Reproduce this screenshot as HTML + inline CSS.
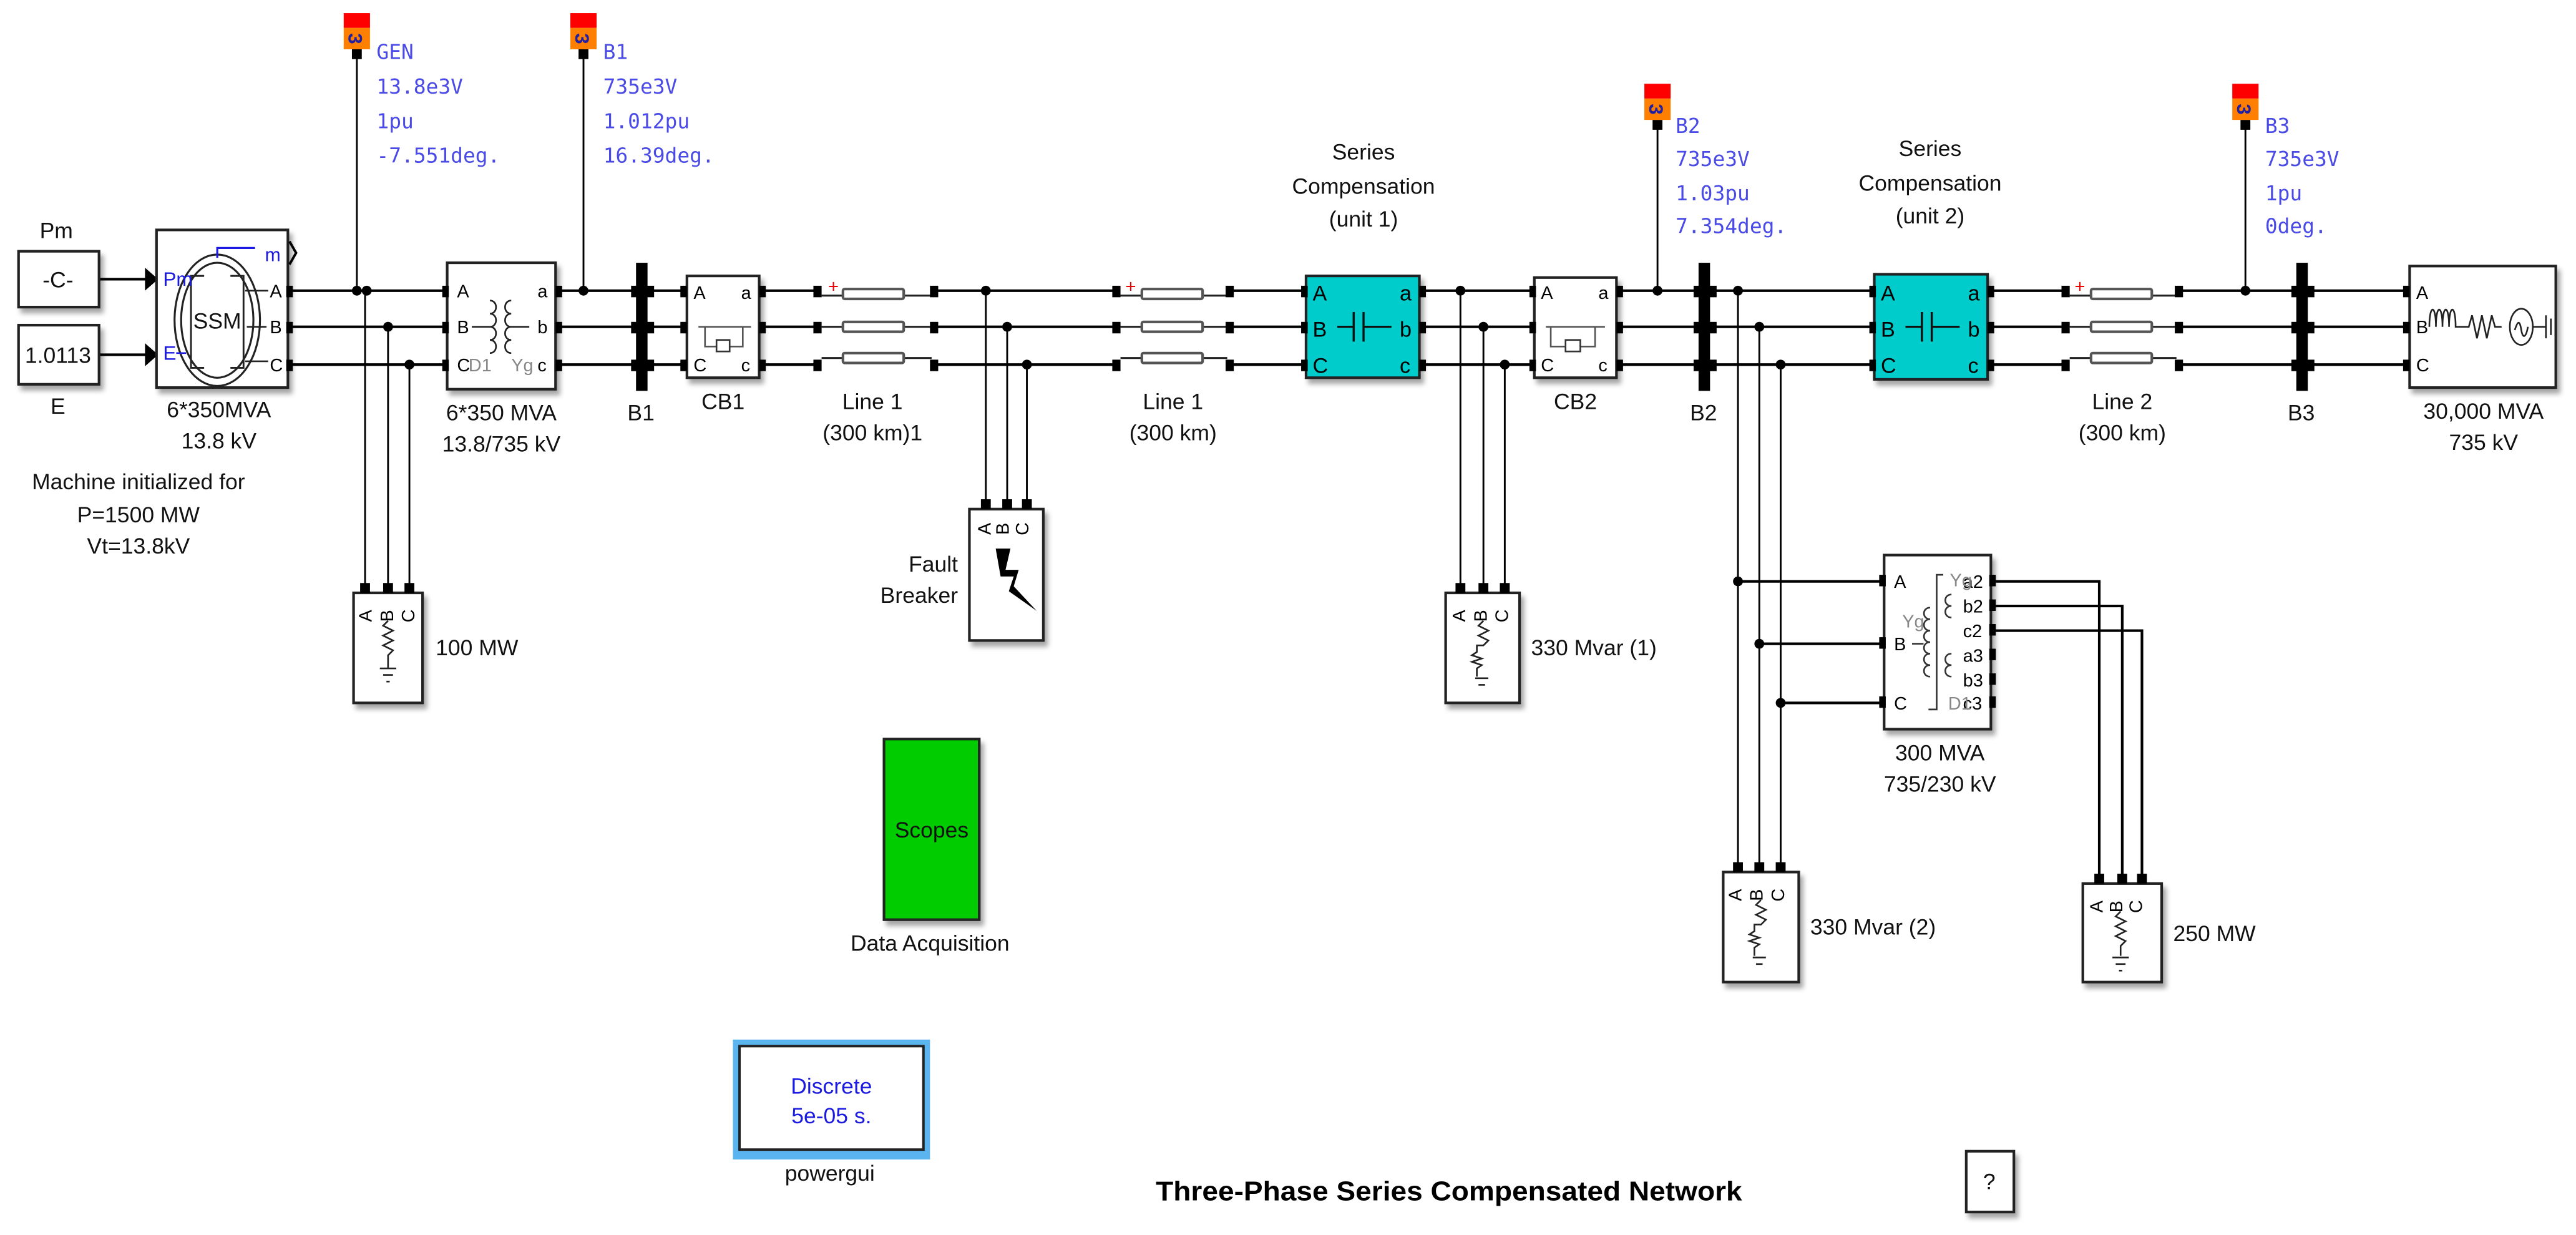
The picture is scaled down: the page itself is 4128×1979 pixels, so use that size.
<!DOCTYPE html>
<html><head><meta charset="utf-8"><style>
html,body{margin:0;padding:0;background:#fff;}
svg{display:block;}
text{font-family:"Liberation Sans",Arial,sans-serif;}
.m{font-family:"DejaVu Sans Mono","Liberation Mono",monospace;fill:#4a4ae6;font-size:12.5px;}
.c{font-size:13.5px;fill:#111;text-anchor:middle;}
.l{font-size:13.5px;fill:#111;}
.w{stroke:#000;stroke-width:1.6;fill:none;}
.v{stroke:#000;stroke-width:1.1;fill:none;}
.b{fill:#fff;stroke:#222;stroke-width:1.6;}
.p{fill:#000;}
.cyl{fill:#fff;stroke:#555;stroke-width:1.6;}
</style></head><body>
<svg xmlns="http://www.w3.org/2000/svg" width="4128" height="1979" viewBox="0 0 1568 752">
<defs>
<filter id="sh" x="-20%" y="-20%" width="150%" height="150%"><feDropShadow dx="2" dy="3" stdDeviation="1.5" flood-color="#000" flood-opacity="0.35"/></filter>
</defs>
<rect width="1568" height="752" fill="#fff"/>

<g class="w">
<path d="M176 177H272M339 177H387M395 177H416M464 177H497M568 177H679M748 177H795M864 177H934M984 177H1035M1041 177H1141M1210 177H1257M1326 177H1398M1404 177H1464"/>
<path d="M176 199H272M339 199H387M395 199H416M464 199H497M568 199H679M748 199H795M864 199H934M984 199H1035M1041 199H1141M1210 199H1257M1326 199H1398M1404 199H1464"/>
<path d="M176 222H272M339 222H387M395 222H416M464 222H497M568 222H679M748 222H795M864 222H934M984 222H1035M1041 222H1141M1210 222H1257M1326 222H1398M1404 222H1464"/>
<path d="M60 170H90M60 216H90"/>
<path d="M1058 354H1147M1071 392H1147M1084 428H1147"/>
<path d="M1213 354H1278V534M1213 369H1292V534M1213 384H1304V534"/>
</g>
<g class="v">
<path d="M217 33V177M355 33V177M1009 76V177M1367 76V177"/>
<path d="M222 177V357M236 199V357M249 222V357"/>
<path d="M600 177V306M613 199V306M625 222V306"/>
<path d="M889 177V357M903 199V357M916 222V357"/>
<path d="M1058 177V527M1071 199V527M1084 222V527"/>
</g>
<polygon points="88,163 96,170 88,177" fill="#000"/>
<polygon points="88,209 96,216 88,223" fill="#000"/>

<g fill="#000">
<circle cx="217" cy="177" r="3"/><circle cx="223" cy="177" r="3"/><circle cx="236" cy="199" r="3"/><circle cx="249" cy="222" r="3"/>
<circle cx="355" cy="177" r="3"/>
<circle cx="600" cy="177" r="3"/><circle cx="613" cy="199" r="3"/><circle cx="625" cy="222" r="3"/>
<circle cx="889" cy="177" r="3"/><circle cx="903" cy="199" r="3"/><circle cx="916" cy="222" r="3"/>
<circle cx="1009" cy="177" r="3"/>
<circle cx="1058" cy="177" r="3"/><circle cx="1071" cy="199" r="3"/><circle cx="1084" cy="222" r="3"/>
<circle cx="1367" cy="177" r="3"/>
<circle cx="1058" cy="354" r="3"/><circle cx="1071" cy="392" r="3"/><circle cx="1084" cy="428" r="3"/>
</g>

<rect x="11" y="153" width="49" height="34" class="b" filter="url(#sh)"/>
<text x="35" y="175" class="c">-C-</text>
<text x="34" y="145" class="c">Pm</text>
<rect x="11" y="198" width="49" height="36" class="b" filter="url(#sh)"/>
<text x="35" y="221" class="c">1.0113</text>
<text x="35" y="252" class="c">E</text>

<rect x="95" y="140" width="80" height="96" class="b" filter="url(#sh)"/>
<path d="M176 147l4 7-4 7" stroke="#000" stroke-width="1.5" fill="none"/>
<ellipse cx="132" cy="195" rx="26" ry="40" fill="none" stroke="#222" stroke-width="1.2"/>
<ellipse cx="132" cy="195" rx="22" ry="35" fill="none" stroke="#222" stroke-width="1.2"/>
<path d="M124 168h-8v56h8M140 168h8v56h-8" stroke="#222" stroke-width="1.1" fill="none"/>
<text x="132" y="200" class="c" font-size="12">SSM</text>
<path d="M132 157V151H155" stroke="#1a1ae0" stroke-width="1.2" fill="none"/>
<text x="161" y="159" fill="#1a1ae0" font-size="11.5">m</text>
<text x="99" y="174" fill="#1a1ae0" font-size="12">Pm</text>
<text x="99" y="219" fill="#1a1ae0" font-size="12">E</text>
<path d="M107 215h6" stroke="#1a1ae0" stroke-width="1"/>
<path d="M149 177h14M150 199h12M149 220h14" stroke="#222" stroke-width="1"/>
<text x="164" y="181" font-size="11">A</text><text x="164" y="203" font-size="11">B</text><text x="164" y="226" font-size="11">C</text>
<text x="133" y="254" class="c">6*350MVA</text>
<text x="133" y="273" class="c">13.8 kV</text>
<text x="84" y="298" class="c">Machine initialized for</text>
<text x="84" y="318" class="c">P=1500 MW</text>
<text x="84" y="337" class="c">Vt=13.8kV</text>

<rect x="272" y="160" width="66" height="77" class="b" filter="url(#sh)"/>
<text x="278" y="181" font-size="11">A</text><text x="278" y="203" font-size="11">B</text><text x="278" y="226" font-size="11">C</text>
<text x="327" y="181" font-size="11">a</text><text x="327" y="203" font-size="11">b</text><text x="327" y="226" font-size="11">c</text>
<text x="285" y="226" font-size="11" fill="#888">D1</text><text x="311" y="226" font-size="11" fill="#888">Yg</text>
<path d="M298 183c5 0 5 8 0 8c5 0 5 8 0 8c5 0 5 8 0 8c5 0 5 8 0 8M311 183c-5 0-5 8 0 8c-5 0-5 8 0 8c-5 0-5 8 0 8c-5 0-5 8 0 8M287 199h12M310 199h12" stroke="#222" stroke-width="1" fill="none"/>
<text x="305" y="256" class="c">6*350 MVA</text>
<text x="305" y="275" class="c">13.8/735 kV</text>

<rect x="387" y="160" width="7" height="78" fill="#000"/>
<text x="390" y="256" class="c">B1</text>
<rect x="1034" y="160" width="7" height="78" fill="#000"/>
<text x="1037" y="256" class="c">B2</text>
<rect x="1398" y="160" width="7" height="78" fill="#000"/>
<text x="1401" y="256" class="c">B3</text>

<rect x="418" y="168" width="44" height="62" class="b" filter="url(#sh)"/>
<text x="422" y="182" font-size="11">A</text><text x="451" y="182" font-size="11">a</text>
<text x="422" y="226" font-size="11">C</text><text x="451" y="226" font-size="11">c</text>
<path d="M425 199h32M429 199v12h7M444 211h8v-12" stroke="#555" stroke-width="1" fill="none"/>
<rect x="436" y="207" width="8" height="7" fill="#fff" stroke="#333" stroke-width="1"/>
<text x="440" y="249" class="c">CB1</text>
<rect x="934" y="169" width="50" height="61" class="b" filter="url(#sh)"/>
<text x="938" y="182" font-size="11">A</text><text x="973" y="182" font-size="11">a</text>
<text x="938" y="226" font-size="11">C</text><text x="973" y="226" font-size="11">c</text>
<path d="M941 199h36M944 199v12h9M962 211h9v-12" stroke="#555" stroke-width="1" fill="none"/>
<rect x="953" y="207" width="9" height="7" fill="#fff" stroke="#333" stroke-width="1"/>
<text x="959" y="249" class="c">CB2</text>

<g>
<path d="M500 180H513M550 180H567M500 199H567M500 218H513M550 218H567" stroke="#222" stroke-width="1.2"/>
<rect x="513" y="176" width="37" height="6" rx="1" class="cyl"/>
<rect x="513" y="196" width="37" height="6" rx="1" class="cyl"/>
<rect x="513" y="215" width="37" height="6" rx="1" class="cyl"/>
<text x="504" y="178" fill="#e00" font-size="11">+</text>
<text x="531" y="249" class="c">Line 1</text><text x="531" y="268" class="c">(300 km)1</text>

<path d="M682 180H695M732 180H747M682 199H747M682 218H695M732 218H747" stroke="#222" stroke-width="1.2"/>
<rect x="695" y="176" width="37" height="6" rx="1" class="cyl"/>
<rect x="695" y="196" width="37" height="6" rx="1" class="cyl"/>
<rect x="695" y="215" width="37" height="6" rx="1" class="cyl"/>
<text x="685" y="178" fill="#e00" font-size="11">+</text>
<text x="714" y="249" class="c">Line 1</text><text x="714" y="268" class="c">(300 km)</text>

<path d="M1260 180H1273M1310 180H1325M1260 199H1325M1260 218H1273M1310 218H1325" stroke="#222" stroke-width="1.2"/>
<rect x="1273" y="176" width="37" height="6" rx="1" class="cyl"/>
<rect x="1273" y="196" width="37" height="6" rx="1" class="cyl"/>
<rect x="1273" y="215" width="37" height="6" rx="1" class="cyl"/>
<text x="1263" y="178" fill="#e00" font-size="11">+</text>
<text x="1292" y="249" class="c">Line 2</text><text x="1292" y="268" class="c">(300 km)</text>
</g>

<rect x="795" y="168" width="69" height="62" fill="#00cccc" stroke="#222" stroke-width="1.6" filter="url(#sh)"/>
<text x="799" y="183" font-size="13">A</text><text x="799" y="205" font-size="13">B</text><text x="799" y="227" font-size="13">C</text>
<text x="852" y="183" font-size="13">a</text><text x="852" y="205" font-size="13">b</text><text x="852" y="227" font-size="13">c</text>
<path d="M814 199h10M824 190v18M830 190v18M830 199h17" stroke="#111" stroke-width="1.3" fill="none"/>
<text x="830" y="97" class="c" font-size="15">Series</text>
<text x="830" y="118" class="c" font-size="15">Compensation</text>
<text x="830" y="138" class="c" font-size="15">(unit 1)</text>

<rect x="1141" y="167" width="69" height="64" fill="#00cccc" stroke="#222" stroke-width="1.6" filter="url(#sh)"/>
<text x="1145" y="183" font-size="13">A</text><text x="1145" y="205" font-size="13">B</text><text x="1145" y="227" font-size="13">C</text>
<text x="1198" y="183" font-size="13">a</text><text x="1198" y="205" font-size="13">b</text><text x="1198" y="227" font-size="13">c</text>
<path d="M1160 199h10M1170 190v18M1176 190v18M1176 199h17" stroke="#111" stroke-width="1.3" fill="none"/>
<text x="1175" y="95" class="c" font-size="15">Series</text>
<text x="1175" y="116" class="c" font-size="15">Compensation</text>
<text x="1175" y="136" class="c" font-size="15">(unit 2)</text>

<rect x="1467" y="162" width="89" height="74" class="b" filter="url(#sh)"/>
<text x="1471" y="182" font-size="11">A</text><text x="1471" y="203" font-size="11">B</text><text x="1471" y="226" font-size="11">C</text>
<path d="M1479 199c0-14 4-14 4 0c0-14 4-14 4 0c0-14 4-14 4 0c0-14 4-14 4 0h8l2-7 3 14 3-14 3 14 3-14 2 7h4" stroke="#222" stroke-width="1" fill="none"/>
<ellipse cx="1535" cy="199" rx="7" ry="11" fill="none" stroke="#222" stroke-width="1"/>
<path d="M1531 201c2-6 3-6 4 0s3 4 4-2M1542 199h8M1550 192v14M1553 194v10" stroke="#222" stroke-width="1" fill="none"/>
<text x="1512" y="255" class="c">30,000 MVA</text>
<text x="1512" y="274" class="c">735 kV</text>

<g>
<rect x="215" y="361" width="42" height="67" class="b" filter="url(#sh)"/>
<text transform="translate(226,375) rotate(-90)" font-size="11" text-anchor="middle">A</text>
<text transform="translate(239,375) rotate(-90)" font-size="11" text-anchor="middle">B</text>
<text transform="translate(252,375) rotate(-90)" font-size="11" text-anchor="middle">C</text>
<path d="M236 378l-3 3 6 3-6 3 6 3-6 3 6 3-3 3v8M231 407h10M233 411h6M235 415h2" stroke="#222" stroke-width="1" fill="none"/>
<text x="265" y="399" class="l">100 MW</text>

<rect x="880" y="361" width="45" height="67" class="b" filter="url(#sh)"/>
<text transform="translate(892,375) rotate(-90)" font-size="11" text-anchor="middle">A</text>
<text transform="translate(905,375) rotate(-90)" font-size="11" text-anchor="middle">B</text>
<text transform="translate(918,375) rotate(-90)" font-size="11" text-anchor="middle">C</text>
<path d="M903 378l-3 3 6 3-6 3 6 3-3 3h-4v4l-3 2 6 2-6 2 6 2-3 2v5M898 413h8M900 417h4" stroke="#222" stroke-width="1" fill="none"/>
<text x="932" y="399" class="l">330 Mvar (1)</text>

<rect x="1049" y="531" width="46" height="67" class="b" filter="url(#sh)"/>
<text transform="translate(1060,545) rotate(-90)" font-size="11" text-anchor="middle">A</text>
<text transform="translate(1073,545) rotate(-90)" font-size="11" text-anchor="middle">B</text>
<text transform="translate(1086,545) rotate(-90)" font-size="11" text-anchor="middle">C</text>
<path d="M1072 548l-3 3 6 3-6 3 6 3-3 3h-4v4l-3 2 6 2-6 2 6 2-3 2v5M1067 583h8M1069 587h4" stroke="#222" stroke-width="1" fill="none"/>
<text x="1102" y="569" class="l">330 Mvar (2)</text>

<rect x="1268" y="538" width="48" height="60" class="b" filter="url(#sh)"/>
<text transform="translate(1280,552) rotate(-90)" font-size="11" text-anchor="middle">A</text>
<text transform="translate(1292,552) rotate(-90)" font-size="11" text-anchor="middle">B</text>
<text transform="translate(1304,552) rotate(-90)" font-size="11" text-anchor="middle">C</text>
<path d="M1291 555l-3 3 6 3-6 3 6 3-6 3 6 3-3 3v6M1286 583h10M1288 587h6M1290 591h2" stroke="#222" stroke-width="1" fill="none"/>
<text x="1323" y="573" class="l">250 MW</text>
</g>

<rect x="590" y="310" width="45" height="80" class="b" filter="url(#sh)"/>
<text transform="translate(603,322) rotate(-90)" font-size="11" text-anchor="middle">A</text>
<text transform="translate(614,322) rotate(-90)" font-size="11" text-anchor="middle">B</text>
<text transform="translate(626,322) rotate(-90)" font-size="11" text-anchor="middle">C</text>
<polygon points="606,334 615,334 612,347 620,347 617,357 631,372 614,360 617,351 609,351" fill="#000"/>
<text x="583" y="348" class="l" text-anchor="end">Fault</text>
<text x="583" y="367" class="l" text-anchor="end">Breaker</text>

<rect x="1147" y="338" width="65" height="106" class="b" filter="url(#sh)"/>
<text x="1153" y="358" font-size="11">A</text><text x="1153" y="396" font-size="11">B</text><text x="1153" y="432" font-size="11">C</text>
<text x="1195" y="358" font-size="11">a2</text><text x="1195" y="373" font-size="11">b2</text><text x="1195" y="388" font-size="11">c2</text>
<text x="1195" y="403" font-size="11">a3</text><text x="1195" y="418" font-size="11">b3</text><text x="1195" y="432" font-size="11">c3</text>
<text x="1158" y="382" font-size="11" fill="#888">Yg</text>
<text x="1187" y="357" font-size="11" fill="#888">Yg</text>
<text x="1186" y="432" font-size="11" fill="#888">D1</text>
<path d="M1183 350h-4v82h-5M1164 392h7M1175 370c-5 0-5 7 0 7c-5 0-5 7 0 7c-5 0-5 7 0 7c-5 0-5 7 0 7c-5 0-5 7 0 7c-5 0-5 7 0 7M1188 362c-5 0-5 7 0 7c-5 0-5 7 0 7M1188 398c-5 0-5 7 0 7c-5 0-5 7 0 7" stroke="#333" stroke-width="1" fill="none"/>
<text x="1181" y="463" class="c">300 MVA</text>
<text x="1181" y="482" class="c">735/230 kV</text>

<g class="p">
<rect x="174" y="174" width="4" height="7"/><rect x="174" y="196" width="4" height="7"/><rect x="174" y="219" width="4" height="7"/>
<rect x="269" y="174" width="4" height="7"/><rect x="269" y="196" width="4" height="7"/><rect x="269" y="219" width="4" height="7"/>
<rect x="338" y="174" width="4" height="7"/><rect x="338" y="196" width="4" height="7"/><rect x="338" y="219" width="4" height="7"/>
<rect x="414" y="174" width="4" height="7"/><rect x="414" y="196" width="4" height="7"/><rect x="414" y="219" width="4" height="7"/>
<rect x="462" y="174" width="4" height="7"/><rect x="462" y="196" width="4" height="7"/><rect x="462" y="219" width="4" height="7"/>
<rect x="495" y="174" width="5" height="7"/><rect x="495" y="196" width="5" height="7"/><rect x="495" y="219" width="5" height="7"/>
<rect x="566" y="174" width="5" height="7"/><rect x="566" y="196" width="5" height="7"/><rect x="566" y="219" width="5" height="7"/>
<rect x="677" y="174" width="5" height="7"/><rect x="677" y="196" width="5" height="7"/><rect x="677" y="219" width="5" height="7"/>
<rect x="746" y="174" width="5" height="7"/><rect x="746" y="196" width="5" height="7"/><rect x="746" y="219" width="5" height="7"/>
<rect x="792" y="174" width="4" height="7"/><rect x="792" y="196" width="4" height="7"/><rect x="792" y="219" width="4" height="7"/>
<rect x="864" y="174" width="4" height="7"/><rect x="864" y="196" width="4" height="7"/><rect x="864" y="219" width="4" height="7"/>
<rect x="931" y="174" width="4" height="7"/><rect x="931" y="196" width="4" height="7"/><rect x="931" y="219" width="4" height="7"/>
<rect x="984" y="174" width="4" height="7"/><rect x="984" y="196" width="4" height="7"/><rect x="984" y="219" width="4" height="7"/>
<rect x="1138" y="174" width="4" height="7"/><rect x="1138" y="196" width="4" height="7"/><rect x="1138" y="219" width="4" height="7"/>
<rect x="1210" y="174" width="4" height="7"/><rect x="1210" y="196" width="4" height="7"/><rect x="1210" y="219" width="4" height="7"/>
<rect x="1255" y="174" width="5" height="7"/><rect x="1255" y="196" width="5" height="7"/><rect x="1255" y="219" width="5" height="7"/>
<rect x="1324" y="174" width="5" height="7"/><rect x="1324" y="196" width="5" height="7"/><rect x="1324" y="219" width="5" height="7"/>
<rect x="1463" y="174" width="4" height="7"/><rect x="1463" y="196" width="4" height="7"/><rect x="1463" y="219" width="4" height="7"/>
<rect x="384" y="174" width="14" height="7"/><rect x="384" y="196" width="14" height="7"/><rect x="384" y="219" width="14" height="7"/>
<rect x="1031" y="174" width="14" height="7"/><rect x="1031" y="196" width="14" height="7"/><rect x="1031" y="219" width="14" height="7"/>
<rect x="1395" y="174" width="14" height="7"/><rect x="1395" y="196" width="14" height="7"/><rect x="1395" y="219" width="14" height="7"/>
<rect x="1144" y="350" width="4" height="7"/><rect x="1144" y="388" width="4" height="7"/><rect x="1144" y="424" width="4" height="7"/>
<rect x="1211" y="350" width="4" height="7"/><rect x="1211" y="365" width="4" height="7"/><rect x="1211" y="380" width="4" height="7"/>
<rect x="1211" y="395" width="4" height="7"/><rect x="1211" y="410" width="4" height="7"/><rect x="1211" y="424" width="4" height="7"/>
<rect x="219" y="355" width="6" height="6"/><rect x="233" y="355" width="6" height="6"/><rect x="246" y="355" width="6" height="6"/>
<rect x="597" y="304" width="6" height="6"/><rect x="610" y="304" width="6" height="6"/><rect x="622" y="304" width="6" height="6"/>
<rect x="886" y="355" width="6" height="6"/><rect x="900" y="355" width="6" height="6"/><rect x="913" y="355" width="6" height="6"/>
<rect x="1055" y="525" width="6" height="6"/><rect x="1068" y="525" width="6" height="6"/><rect x="1081" y="525" width="6" height="6"/>
<rect x="1275" y="532" width="6" height="6"/><rect x="1289" y="532" width="6" height="6"/><rect x="1301" y="532" width="6" height="6"/>
<rect x="214" y="30" width="6" height="6"/><rect x="352" y="30" width="6" height="6"/>
<rect x="1006" y="73" width="6" height="6"/><rect x="1364" y="73" width="6" height="6"/>
</g>

<g>
<rect x="209" y="8" width="16" height="9" fill="#f00"/><rect x="209" y="17" width="16" height="13" fill="#ff8000"/>
<text transform="translate(212,23.5) rotate(90)" font-size="12" font-weight="bold" fill="#2020a0" text-anchor="middle">3</text>
<rect x="347" y="8" width="16" height="9" fill="#f00"/><rect x="347" y="17" width="16" height="13" fill="#ff8000"/>
<text transform="translate(350,23.5) rotate(90)" font-size="12" font-weight="bold" fill="#2020a0" text-anchor="middle">3</text>
<rect x="1001" y="51" width="16" height="9" fill="#f00"/><rect x="1001" y="60" width="16" height="13" fill="#ff8000"/>
<text transform="translate(1004,66.5) rotate(90)" font-size="12" font-weight="bold" fill="#2020a0" text-anchor="middle">3</text>
<rect x="1359" y="51" width="16" height="9" fill="#f00"/><rect x="1359" y="60" width="16" height="13" fill="#ff8000"/>
<text transform="translate(1362,66.5) rotate(90)" font-size="12" font-weight="bold" fill="#2020a0" text-anchor="middle">3</text>
</g>
<text class="m" x="229" y="36">GEN</text><text class="m" x="229" y="57">13.8e3V</text><text class="m" x="229" y="78">1pu</text><text class="m" x="229" y="99">-7.551deg.</text>
<text class="m" x="367" y="36">B1</text><text class="m" x="367" y="57">735e3V</text><text class="m" x="367" y="78">1.012pu</text><text class="m" x="367" y="99">16.39deg.</text>
<text class="m" x="1020" y="81">B2</text><text class="m" x="1020" y="101">735e3V</text><text class="m" x="1020" y="122">1.03pu</text><text class="m" x="1020" y="142">7.354deg.</text>
<text class="m" x="1379" y="81">B3</text><text class="m" x="1379" y="101">735e3V</text><text class="m" x="1379" y="122">1pu</text><text class="m" x="1379" y="142">0deg.</text>

<rect x="538" y="450" width="58" height="110" fill="#00cc00" stroke="#222" stroke-width="1.6" filter="url(#sh)"/>
<text x="567" y="510" class="c">Scopes</text>
<text x="566" y="579" class="c" font-size="14.5">Data Acquisition</text>

<rect x="446" y="633" width="120" height="73" fill="#5ab4f0"/>
<rect x="450" y="637" width="112" height="63" fill="#fff" stroke="#222" stroke-width="1.5"/>
<text x="506" y="666" class="c" style="fill:#1a1ae0">Discrete</text>
<text x="506" y="684" class="c" style="fill:#1a1ae0">5e-05 s.</text>
<text x="505" y="719" class="c" font-size="12.5">powergui</text>

<text x="882" y="731" font-size="16.5" font-weight="bold" text-anchor="middle" textLength="357" lengthAdjust="spacingAndGlyphs">Three-Phase Series Compensated Network</text>
<rect x="1197" y="701" width="29" height="37" class="b" filter="url(#sh)"/>
<text x="1211" y="724" class="c" font-size="11">?</text>
</svg>
</body></html>
